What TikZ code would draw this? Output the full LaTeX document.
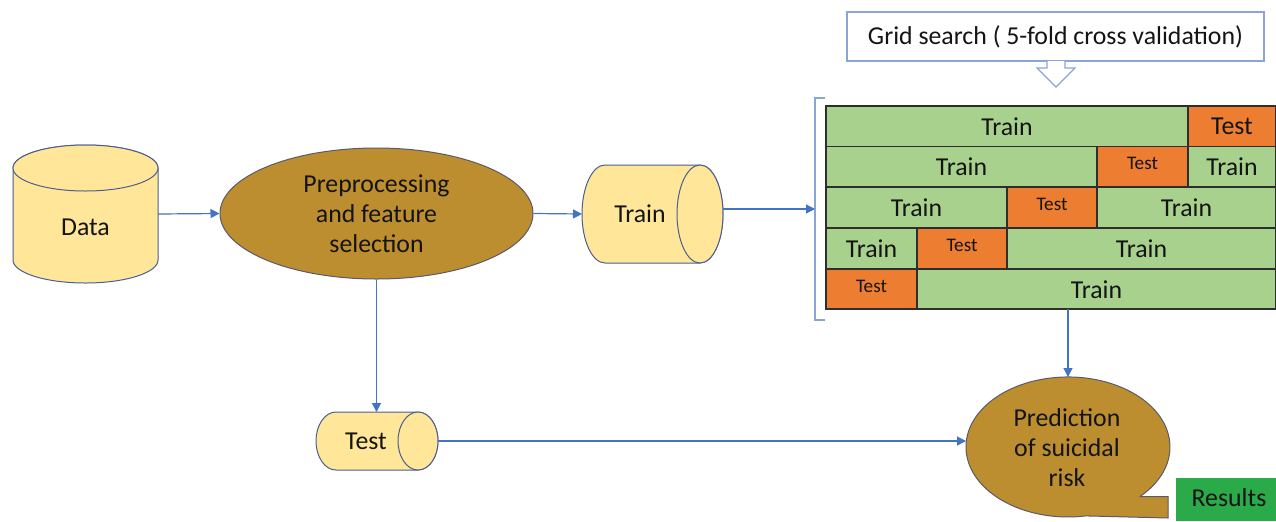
\documentclass[tikz,border=0pt]{standalone}
\usepackage{fontspec}
\setmainfont{Carlito}
\usetikzlibrary{shapes.geometric,fit,arrows.meta}
\definecolor{cylfill}{HTML}{FFE699}
\definecolor{cylline}{HTML}{4A5F8F}
\definecolor{arrowblue}{HTML}{4472C4}
\definecolor{prepfill}{HTML}{BC8E2F}
\definecolor{prepline}{HTML}{5A5A6A}
\definecolor{gsline}{HTML}{8AA4D6}
\definecolor{traingreen}{HTML}{A9D18E}
\definecolor{testorange}{HTML}{ED7D31}
\definecolor{gridline}{HTML}{2E2E2E}
\definecolor{resgreen}{HTML}{2BAA4A}
\definecolor{textc}{HTML}{141414}
\begin{document}
\begin{tikzpicture}[x=0.5pt,y=-0.5pt,
  arr/.style={draw=arrowblue, line width=0.6pt, -{Triangle[length=4.5pt,width=4.5pt]}},
  big/.style={font=\fontsize{12.9}{15}\selectfont, text=textc, align=center},
  small/.style={font=\fontsize{9.6}{11}\selectfont, text=textc},
  cyl/.style={fill=cylfill, draw=cylline, line width=0.5pt},
  box/.style={inner sep=0pt, outer sep=0pt},
  trc/.style={fill=traingreen, draw=gridline, line width=0.65pt},
  tsc/.style={fill=testorange, draw=gridline, line width=0.65pt}]
\useasboundingbox (0,0) rectangle (1276,521);

% Data cylinder
\path[cyl] (13,168) -- (13,260) arc[start angle=180, end angle=0, x radius=72.5, y radius=23] -- (158,168) arc[start angle=0, end angle=-180, x radius=72.5, y radius=23] -- cycle;
\draw[cyl] (85.5,168) ellipse[x radius=72.5, y radius=23];
\node[box, fit={(13,145)(158,283)}] (data) {};
\node[big] at (85.5,227) {Data};

% Preprocessing ellipse
\node[ellipse, draw=prepline, fill=prepfill, line width=0.5pt, inner sep=0pt,
      minimum width=156.5pt, minimum height=65.5pt, big] (prep) at (376.5,213.5)
      {Preprocessing\\and feature\\selection};

% Train cylinder
\path[cyl] (605,165) -- (700,165) arc[start angle=-90, end angle=90, x radius=23, y radius=49] -- (605,263) arc[start angle=90, end angle=270, x radius=23, y radius=49] -- cycle;
\draw[cyl] (700,214) ellipse[x radius=23, y radius=49];
\node[box, fit={(582,165)(723,263)}] (train) {};
\node[big] at (640,214) {Train};

% Test cylinder
\path[cyl] (336,412) -- (418,412) arc[start angle=-90, end angle=90, x radius=20, y radius=29] -- (336,470) arc[start angle=90, end angle=270, x radius=20, y radius=29] -- cycle;
\draw[cyl] (418,441) ellipse[x radius=20, y radius=29];
\node[box, fit={(316,412)(438,470)}] (test) {};
\node[big] at (366,441) {Test};

% Grid search box and hollow arrow
\node[draw=gsline, fill=white, line width=0.6pt, inner sep=0pt, minimum width=208.5pt, minimum height=24.5pt, big] (gs) at (1055.5,36.5) {Grid search ( 5-fold cross validation)};
\draw[draw=gsline, fill=white, line width=0.6pt] (1047,61) -- (1047,68) -- (1037,68) -- (1056,87) -- (1075,68) -- (1065,68) -- (1065,61);

% Bracket
\draw[gsline, line width=0.6pt] (825,98) -- (815,98) -- (815,320) -- (825,320);
\node[box, fit={(815,98)(825,320)}] (bracket) {};

% Cross-validation grid
\draw[trc] (826,106) rectangle (1188,146.5);
\draw[tsc] (1188,106) rectangle (1276,146.5);
\draw[trc] (826,146.5) rectangle (1097,187);
\draw[tsc] (1097,146.5) rectangle (1188,187);
\draw[trc] (1188,146.5) rectangle (1276,187);
\draw[trc] (826,187) rectangle (1007,228);
\draw[tsc] (1007,187) rectangle (1097,228);
\draw[trc] (1097,187) rectangle (1276,228);
\draw[trc] (826,228) rectangle (917,269);
\draw[tsc] (917,228) rectangle (1007,269);
\draw[trc] (1007,228) rectangle (1276,269);
\draw[tsc] (826,269) rectangle (917,309);
\draw[trc] (917,269) rectangle (1276,309);
\node[box, fit={(826,106)(1276,309)}] (grid) {};

\node[big] at (1007,126.5) {Train};
\node[big] at (1232,126.5) {Test};
\node[big] at (961.5,167) {Train};
\node[small] at (1142.5,163) {Test};
\node[big] at (1232,167) {Train};
\node[big] at (916.5,208) {Train};
\node[small] at (1052,204) {Test};
\node[big] at (1186.5,208) {Train};
\node[big] at (871.5,249) {Train};
\node[small] at (962,245) {Test};
\node[big] at (1141.5,249) {Train};
\node[small] at (871.5,286) {Test};
\node[big] at (1096.5,289.5) {Train};

% Prediction callout
\path[fill=prepfill, draw=prepline, line width=0.5pt] (1140.1,496.5) -- (1168,496.5) -- (1168,518) -- (1085.7,515.9)
  arc[start angle=80, end angle=405, x radius=102, y radius=70] -- cycle;
\node[box, fit={(966,377)(1170,517)}] (pred) {};
\node[big] at (1067,448) {Prediction\\of suicidal\\risk};

% Results
\node[box, fill=resgreen, fit={(1176,478)(1276,521)}] (res) {};
\node[big] at (1229,498) {Results};

% Connectors
\draw[arr] (data.east) -- (prep.west);
\draw[arr] (prep.east) -- (train.west);
\draw[arr] (train.east |- bracket.west) -- (bracket.west);
\draw[arr] (prep.south) -- (prep.south |- test.north);
\draw[arr] (test.east) -- (test.east -| pred.west);
\draw[arr] (pred.north |- grid.south) -- (pred.north);
\end{tikzpicture}
\end{document}
